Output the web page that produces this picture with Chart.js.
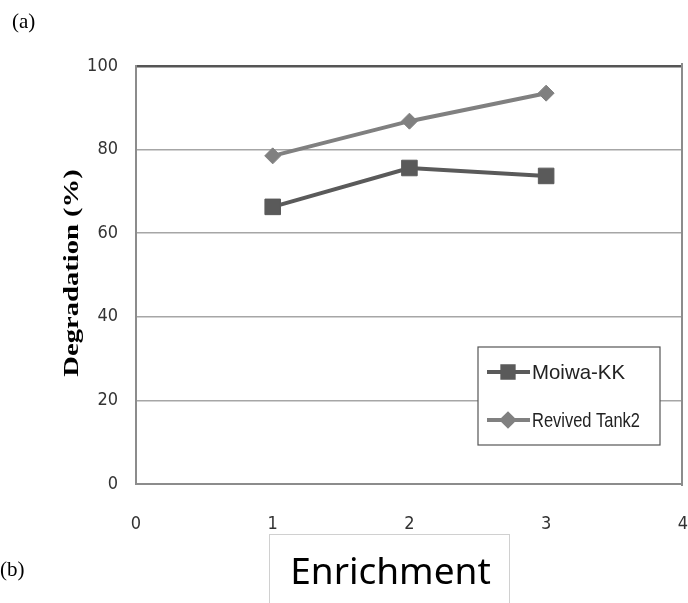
<!DOCTYPE html>
<html>
<head>
<meta charset="utf-8">
<script src="https://cdn.jsdelivr.net/npm/chart.js@4/dist/chart.umd.min.js"></script>
<style>
    html, body { margin: 0; padding: 0; background: #fff; }
    #wrap { position: relative; width: 688px; height: 603px; overflow: hidden; }
    #chart { position: absolute; left: 0; top: 0; }
    .tag { position: absolute; font-family: "Liberation Serif", "DejaVu Serif", serif; font-size: 21px; color: #000; }
    #xbox { position: absolute; left: 269px; top: 534px; width: 241px; height: 80px; border: 1px solid #d0d0d0; box-sizing: border-box; }
    #xtitle { position: absolute; left: 0; width: 241px; top: 9px; text-align: center; font-family: "Noto Sans", sans-serif; font-size: 37px; color: #000; }
    #rightEdge { position: absolute; left: 681px; top: 63px; width: 7px; height: 423px; background: #fff; border-left: 2px solid #8c8c8c; box-sizing: border-box; }
</style>
</head>
<body>
<div id="wrap">
    <canvas id="chart" width="710" height="603"></canvas>
    <div id="rightEdge"></div>
    <div class="tag" style="left:12px; top:9px;">(a)</div>
    <div class="tag" style="left:0px; top:557px;">(b)</div>
    <div id="xbox"><div id="xtitle">Enrichment</div></div>
</div>
<script>
var enrichment = [1, 2, 3];
var moiwaKK = [66.3, 75.6, 73.7];
var revivedTank2 = [78.5, 86.8, 93.5];
var yTicks = [0, 20, 40, 60, 80, 100];
var xTicks = [0, 1, 2, 3, 4];
var yTitle = 'Degradation (%)';

function toPoints(xs, ys) {
    return xs.map(function (x, i) { return { x: x, y: ys[i] }; });
}

var tickFont = { family: '"DejaVu Sans Condensed", "Liberation Sans Narrow", "Liberation Sans", sans-serif', size: 18 };

// stretched bold serif axis title, as in the scanned figure
var yTitlePlugin = {
    id: 'yTitlePlugin',
    afterDraw: function (chart) {
        var ctx = chart.ctx;
        var a = chart.chartArea;
        ctx.save();
        ctx.translate(72, (a.top + a.bottom) / 2 - 2);
        ctx.rotate(-Math.PI / 2);
        ctx.scale(1.3, 1);
        ctx.font = 'bold 22px "Liberation Serif", "DejaVu Serif", serif';
        ctx.fillStyle = '#000';
        ctx.textAlign = 'center';
        ctx.textBaseline = 'middle';
        ctx.fillText(yTitle, 0, 0);
        ctx.restore();
    }
};

// legend box drawn inside the plot, like the original
var boxLegend = {
    id: 'boxLegend',
    afterDraw: function (chart) {
        var ctx = chart.ctx;
        var x0 = 478, y0 = 347, w = 182, h = 98;
        ctx.save();
        ctx.fillStyle = '#fff';
        ctx.fillRect(x0, y0, w, h);
        ctx.strokeStyle = '#555';
        ctx.lineWidth = 1.2;
        ctx.strokeRect(x0, y0, w, h);
        var rows = [372, 420];
        var widths = [93, 108];
        chart.data.datasets.forEach(function (ds, i) {
            var y = rows[i];
            ctx.strokeStyle = ds.borderColor;
            ctx.lineWidth = 4;
            ctx.beginPath();
            ctx.moveTo(487, y);
            ctx.lineTo(530, y);
            ctx.stroke();
            Chart.helpers.drawPoint(ctx, {
                pointStyle: ds.pointStyle,
                radius: ds.pointStyle === 'rect' ? 8 : 6,
                borderWidth: 1
            }, 508, y);
            ctx.fillStyle = ds.backgroundColor;
            ctx.fill();
            ctx.fillStyle = '#222';
            ctx.font = '21px "Liberation Sans", sans-serif';
            ctx.textBaseline = 'middle';
            ctx.textAlign = 'left';
            ctx.fillText(ds.label, 532, y + 1, widths[i]);
        });
        ctx.restore();
    }
};

new Chart(document.getElementById('chart').getContext('2d'), {
    type: 'scatter',
    data: {
        datasets: [
            {
                label: 'Moiwa-KK',
                data: toPoints(enrichment, moiwaKK),
                showLine: true,
                borderColor: '#5a5a5a',
                backgroundColor: '#5a5a5a',
                borderWidth: 4,
                pointStyle: 'rect',
                pointRadius: 11,
                pointBorderWidth: 1,
                tension: 0
            },
            {
                label: 'Revived Tank2',
                data: toPoints(enrichment, revivedTank2),
                showLine: true,
                borderColor: '#808080',
                backgroundColor: '#808080',
                borderWidth: 4,
                pointStyle: 'rectRot',
                pointRadius: 8,
                pointBorderWidth: 1,
                tension: 0
            }
        ]
    },
    options: {
        responsive: false,
        animation: false,
        layout: { padding: { left: 0, top: 66, right: 8, bottom: 0 } },
        plugins: {
            legend: { display: false },
            tooltip: { enabled: false }
        },
        scales: {
            x: {
                type: 'linear',
                min: 0,
                max: 4,
                afterBuildTicks: function (s) { s.ticks = xTicks.map(function (v) { return { value: v }; }); },
                afterFit: function (s) { s.height = 119; },
                ticks: { color: '#333', font: tickFont, padding: 22 },
                grid: { display: false },
                border: { color: '#8c8c8c', width: 2 }
            },
            y: {
                min: 0,
                max: 100,
                afterBuildTicks: function (s) { s.ticks = yTicks.map(function (v) { return { value: v }; }); },
                afterFit: function (s) { s.width = 136; },
                ticks: { color: '#333', font: tickFont, padding: 18 },
                grid: {
                    drawTicks: false,
                    color: function (c) { return c.tick && c.tick.value === 100 ? '#555' : '#a6a6a6'; },
                    lineWidth: function (c) { return c.tick && c.tick.value === 100 ? 2.5 : 1.5; }
                },
                border: { color: '#8c8c8c', width: 2 }
            }
        }
    },
    plugins: [boxLegend, yTitlePlugin]
});
</script>
</body>
</html>
